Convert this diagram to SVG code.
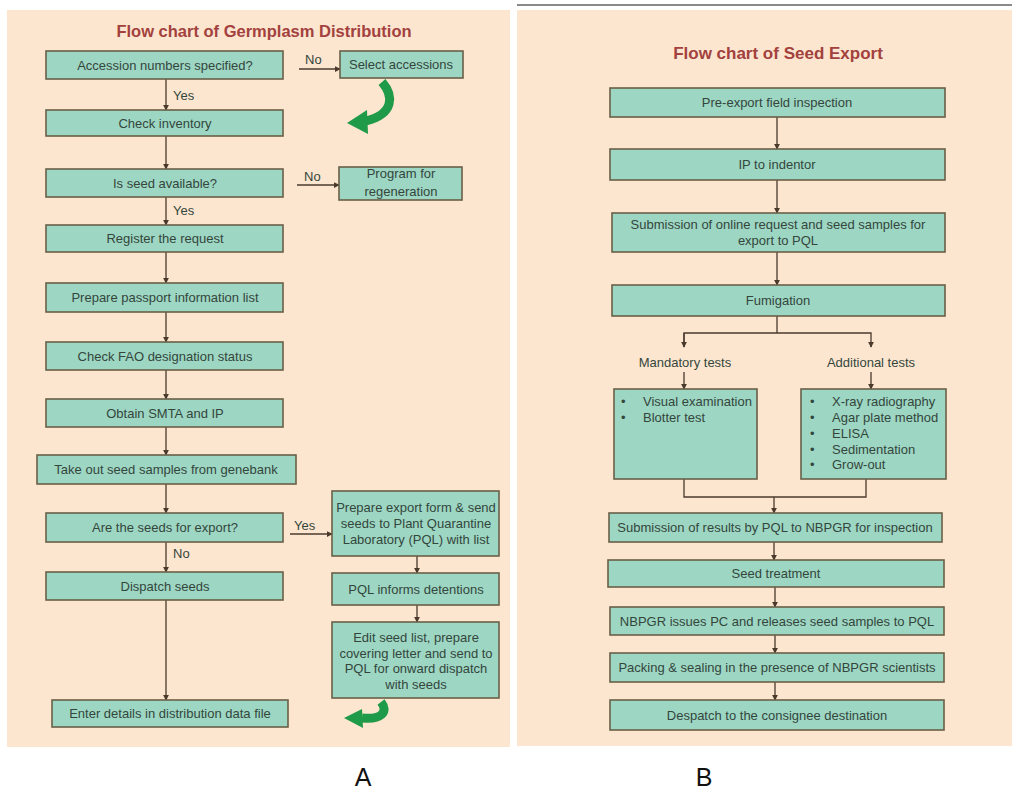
<svg xmlns="http://www.w3.org/2000/svg" width="1017" height="793" viewBox="0 0 1017 793">
<defs>
<marker id="dot" viewBox="0 0 8 8" refX="7" refY="4" markerWidth="6" markerHeight="6" orient="auto" markerUnits="userSpaceOnUse">
<path d="M0,0 L8,4 L0,8 Z" fill="#4a3a2c"/>
</marker>
<style>
.bg{fill:#fde6d0}
.box{fill:#9dd6c3;stroke:#6a6048;stroke-width:1.6}
.t{font-family:"Liberation Sans",Arial,sans-serif;font-size:13px;fill:#34463c}
.c{text-anchor:middle}
.title{font-family:"Liberation Sans",Arial,sans-serif;font-size:16.5px;font-weight:bold;fill:#a2413d;text-anchor:middle}
.lbl{font-family:"Liberation Sans",Arial,sans-serif;font-size:13px;fill:#34463c}
.big{font-family:"Liberation Sans",Arial,sans-serif;font-size:25px;fill:#111;text-anchor:middle}
.ln{fill:none;stroke:#4a3a2c;stroke-width:1.3}
.arr{marker-end:url(#dot)}
.green{fill:none;stroke:#1f9a48;stroke-width:9;stroke-linecap:butt}
.gh{fill:#1f9a48}
</style>
</defs>
<rect width="1017" height="793" fill="#ffffff"/>
<rect class="bg" x="7" y="10" width="503" height="737"/>
<rect x="517" y="4" width="495" height="2" fill="#8a8a8a"/>
<rect class="bg" x="517" y="10" width="495" height="736"/>
<text class="title" x="264" y="37">Flow chart of Germplasm Distribution</text>
<text class="title" x="778" y="59" style="font-size:17px">Flow chart of Seed Export</text>

<g id="connectors">
<line class="ln arr" x1="166" y1="79" x2="166" y2="110"/>
<line class="ln arr" x1="166" y1="136" x2="166" y2="169"/>
<line class="ln arr" x1="166" y1="197" x2="166" y2="225"/>
<line class="ln arr" x1="166" y1="252" x2="166" y2="283"/>
<line class="ln arr" x1="166" y1="312" x2="166" y2="342"/>
<line class="ln arr" x1="166" y1="370" x2="166" y2="399"/>
<line class="ln arr" x1="166" y1="427" x2="166" y2="455"/>
<line class="ln arr" x1="166" y1="484" x2="166" y2="513"/>
<line class="ln arr" x1="166" y1="542" x2="166" y2="572"/>
<line class="ln arr" x1="166" y1="600" x2="166" y2="700"/>
<line class="ln arr" x1="299" y1="69" x2="340" y2="69"/>
<line class="ln arr" x1="297" y1="185" x2="339" y2="185"/>
<line class="ln arr" x1="290" y1="534" x2="332" y2="534"/>
<line class="ln arr" x1="417" y1="556" x2="417" y2="573"/>
<line class="ln arr" x1="417" y1="605" x2="417" y2="622"/>
<text class="lbl" x="305" y="64">No</text>
<text class="lbl" x="304" y="181">No</text>
<text class="lbl" x="294" y="530">Yes</text>
<text class="lbl" x="173" y="100">Yes</text>
<text class="lbl" x="173" y="215">Yes</text>
<text class="lbl" x="173" y="558">No</text>
<path class="green" d="M382,82 C394,96 394,114 366,121"/>
<polygon class="gh" points="347,123 367,110 368,134"/>
<path class="green" d="M381,702 C389,712 381,720 362,718"/>
<polygon class="gh" points="344,718 362,709 363,728"/>

<line class="ln arr" x1="777" y1="117" x2="777" y2="149"/>
<line class="ln arr" x1="777" y1="180" x2="777" y2="213"/>
<line class="ln arr" x1="777" y1="252" x2="777" y2="285"/>
<polyline class="ln" points="777,316 777,333"/>
<polyline class="ln arr" points="684,347 684,333 871,333 871,347"/>
<line class="ln arr" x1="684" y1="333" x2="684" y2="347"/>
<line class="ln arr" x1="684" y1="372" x2="684" y2="389"/>
<line class="ln arr" x1="871" y1="372" x2="871" y2="389"/>
<polyline class="ln" points="684,479 684,497 866,497 866,479"/>
<line class="ln arr" x1="774" y1="497" x2="774" y2="513"/>
<line class="ln arr" x1="774" y1="542" x2="774" y2="560"/>
<line class="ln arr" x1="775" y1="587" x2="775" y2="607"/>
<line class="ln arr" x1="775" y1="635" x2="775" y2="653"/>
<line class="ln arr" x1="775" y1="682" x2="775" y2="700"/>
<text class="lbl c" x="685" y="367">Mandatory tests</text>
<text class="lbl c" x="871" y="367">Additional tests</text>
</g>

<g id="a1"><rect class="box" x="46" y="51" width="237" height="28"/><text class="t c" x="165" y="70">Accession numbers specified?</text></g>
<g id="a1n"><rect class="box" x="340" y="51" width="123" height="27"/><text class="t c" x="401" y="69">Select accessions</text></g>
<g id="a2"><rect class="box" x="46" y="110" width="237" height="26"/><text class="t c" x="165" y="128">Check inventory</text></g>
<g id="a3"><rect class="box" x="46" y="169" width="237" height="28"/><text class="t c" x="165" y="188">Is seed available?</text></g>
<g id="a3n"><rect class="box" x="339" y="167" width="123" height="33"/><text class="t c" x="401" y="178">Program for</text><text class="t c" x="401" y="196">regeneration</text></g>
<g id="a4"><rect class="box" x="46" y="225" width="237" height="27"/><text class="t c" x="165" y="243">Register the request</text></g>
<g id="a5"><rect class="box" x="46" y="283" width="237" height="29"/><text class="t c" x="165" y="302">Prepare passport information list</text></g>
<g id="a6"><rect class="box" x="46" y="342" width="237" height="28"/><text class="t c" x="165" y="361">Check FAO designation status</text></g>
<g id="a7"><rect class="box" x="46" y="399" width="237" height="28"/><text class="t c" x="165" y="418">Obtain SMTA and IP</text></g>
<g id="a8"><rect class="box" x="37" y="455" width="259" height="29"/><text class="t c" x="166" y="474">Take out seed samples from genebank</text></g>
<g id="a9"><rect class="box" x="46" y="513" width="237" height="29"/><text class="t c" x="165" y="532">Are the seeds for export?</text></g>
<g id="a9y"><rect class="box" x="332" y="491" width="167" height="65"/><text class="t c" x="416" y="512">Prepare export form &amp; send</text><text class="t c" x="416" y="528">seeds to Plant Quarantine</text><text class="t c" x="416" y="544">Laboratory (PQL) with list</text></g>
<g id="a10"><rect class="box" x="46" y="572" width="237" height="28"/><text class="t c" x="165" y="591">Dispatch seeds</text></g>
<g id="a11"><rect class="box" x="332" y="573" width="167" height="32"/><text class="t c" x="416" y="594">PQL informs detentions</text></g>
<g id="a12"><rect class="box" x="332" y="622" width="167" height="76"/><text class="t c" x="416" y="642">Edit seed list, prepare</text><text class="t c" x="416" y="658">covering letter and send to</text><text class="t c" x="416" y="673">PQL for onward dispatch</text><text class="t c" x="416" y="689">with seeds</text></g>
<g id="a13"><rect class="box" x="52" y="700" width="236" height="27"/><text class="t c" x="170" y="718">Enter details in distribution data file</text></g>

<g id="b1"><rect class="box" x="610" y="88" width="335" height="29"/><text class="t c" x="777" y="107">Pre-export field inspection</text></g>
<g id="b2"><rect class="box" x="610" y="149" width="335" height="31"/><text class="t c" x="777" y="169">IP to indentor</text></g>
<g id="b3"><rect class="box" x="612" y="213" width="333" height="39"/><text class="t c" x="778" y="229">Submission of online request and seed samples for</text><text class="t c" x="778" y="245">export to PQL</text></g>
<g id="b4"><rect class="box" x="612" y="285" width="333" height="31"/><text class="t c" x="778" y="305">Fumigation</text></g>
<g id="b5"><rect class="box" x="614" y="389" width="143" height="90"/><text class="t" x="621" y="406">•</text><text class="t" x="643" y="406">Visual examination</text><text class="t" x="621" y="422">•</text><text class="t" x="643" y="422">Blotter test</text></g>
<g id="b6"><rect class="box" x="801" y="389" width="145" height="90"/><text class="t" x="810" y="406">•</text><text class="t" x="832" y="406">X-ray radiography</text><text class="t" x="810" y="422">•</text><text class="t" x="832" y="422">Agar plate method</text><text class="t" x="810" y="438">•</text><text class="t" x="832" y="438">ELISA</text><text class="t" x="810" y="454">•</text><text class="t" x="832" y="454">Sedimentation</text><text class="t" x="810" y="469">•</text><text class="t" x="832" y="469">Grow-out</text></g>
<g id="b7"><rect class="box" x="609" y="513" width="333" height="29"/><text class="t c" x="775" y="532">Submission of results by PQL to NBPGR for inspection</text></g>
<g id="b8"><rect class="box" x="608" y="560" width="336" height="27"/><text class="t c" x="776" y="578">Seed treatment</text></g>
<g id="b9"><rect class="box" x="610" y="607" width="334" height="28"/><text class="t c" x="777" y="626">NBPGR issues PC and releases seed samples to PQL</text></g>
<g id="b10"><rect class="box" x="610" y="653" width="334" height="29"/><text class="t c" x="777" y="672">Packing &amp; sealing in the presence of NBPGR scientists</text></g>
<g id="b11"><rect class="box" x="610" y="700" width="334" height="30"/><text class="t c" x="777" y="720">Despatch to the consignee destination</text></g>

<text class="big" x="363" y="786">A</text>
<text class="big" x="704" y="786">B</text>
</svg>
